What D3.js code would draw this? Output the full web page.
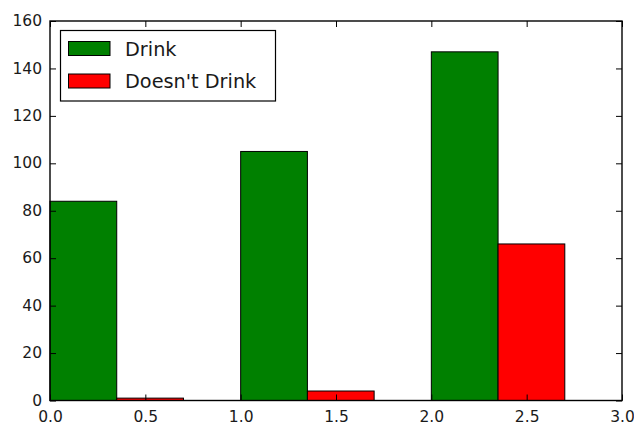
<!DOCTYPE html>
<html>
<head>
<meta charset="utf-8">
<script src="https://cdn.jsdelivr.net/npm/d3@7"></script>
<style>
  html, body { margin: 0; padding: 0; background: #fff; }
  svg { display: block; }
  text { font-family: "DejaVu Sans", sans-serif; fill: #1a1a1a; }
</style>
</head>
<body>
<svg id="chart" width="634" height="428"></svg>
<script>
// Group positions (left edge of each pair of bars)
const groups = [0, 1, 2];
const barWidth = 0.35;

// Series values
const drink = [84, 105, 147];
const doesntDrink = [1, 4, 66];

const seriesNames = ["Drink", "Doesn't Drink"];
const seriesColors = ["#008000", "#ff0000"];

// Tick labels
const xTicks = [0, 0.5, 1, 1.5, 2, 2.5, 3];
const yTicks = [0, 20, 40, 60, 80, 100, 120, 140, 160];

const svg = d3.select("#chart");
const plot = { left: 50, right: 622, top: 21, bottom: 400.5 };

const x = d3.scaleLinear().domain([0, 3]).range([plot.left, plot.right]);
const y = d3.scaleLinear().domain([0, 160]).range([plot.bottom, plot.top]);

// Bars
const series = [drink, doesntDrink];
series.forEach((vals, si) => {
  svg.append("g")
    .selectAll("rect")
    .data(vals)
    .join("rect")
    .attr("x", (d, i) => x(groups[i] + si * barWidth))
    .attr("width", (d, i) => x(groups[i] + si * barWidth + barWidth) - x(groups[i] + si * barWidth))
    .attr("y", d => y(d))
    .attr("height", d => y(0) - y(d))
    .attr("fill", seriesColors[si])
    .attr("stroke", "#000")
    .attr("stroke-width", 1);
});

// Axes with inward ticks on all four sides
const tickLen = 6;
const fontSize = 15.5;

const bottomAxis = d3.axisBottom(x).tickValues(xTicks).tickFormat(d3.format(".1f"))
  .tickSizeInner(-tickLen).tickSizeOuter(0).tickPadding(10);
const topAxis = d3.axisTop(x).tickValues(xTicks).tickFormat("")
  .tickSizeInner(-tickLen).tickSizeOuter(0);
const leftAxis = d3.axisLeft(y).tickValues(yTicks).tickFormat(d3.format("d"))
  .tickSizeInner(-tickLen).tickSizeOuter(0).tickPadding(8);
const rightAxis = d3.axisRight(y).tickValues(yTicks).tickFormat("")
  .tickSizeInner(-tickLen).tickSizeOuter(0);

function styleAxis(g) {
  g.select(".domain").remove();
  g.selectAll(".tick line").attr("stroke", "#000").attr("stroke-width", 1);
  g.selectAll(".tick text")
    .attr("font-size", fontSize)
    .attr("font-family", "DejaVu Sans, sans-serif")
    .attr("fill", "#1a1a1a");
}

svg.append("g").attr("transform", `translate(0,${plot.bottom})`).call(bottomAxis).call(styleAxis)
  .selectAll(".tick text").attr("dy", "0.75em");
svg.append("g").attr("transform", `translate(0,${plot.top})`).call(topAxis).call(styleAxis);
svg.append("g").attr("transform", `translate(${plot.left},0)`).call(leftAxis).call(styleAxis)
  .selectAll(".tick text").attr("dy", "0.3em");
svg.append("g").attr("transform", `translate(${plot.right},0)`).call(rightAxis).call(styleAxis);

// Axes frame
svg.append("rect")
  .attr("x", plot.left).attr("y", plot.top)
  .attr("width", plot.right - plot.left).attr("height", plot.bottom - plot.top)
  .attr("fill", "none").attr("stroke", "#000").attr("stroke-width", 1.4);

// Legend
const legend = svg.append("g").attr("transform", "translate(60.5,30.5)");
legend.append("rect")
  .attr("width", 215).attr("height", 70.5)
  .attr("fill", "#fff").attr("stroke", "#000").attr("stroke-width", 1.2);
const item = legend.selectAll("g.item")
  .data(seriesNames)
  .join("g")
  .attr("class", "item")
  .attr("transform", (d, i) => `translate(8,${11 + i * 32.5})`);
item.append("rect")
  .attr("width", 41.5).attr("height", 14)
  .attr("fill", (d, i) => seriesColors[i])
  .attr("stroke", "#000").attr("stroke-width", 1);
item.append("text")
  .attr("x", 56.5).attr("y", 14)
  .attr("font-size", 19.3)
  .text(d => d);
</script>
</body>
</html>
